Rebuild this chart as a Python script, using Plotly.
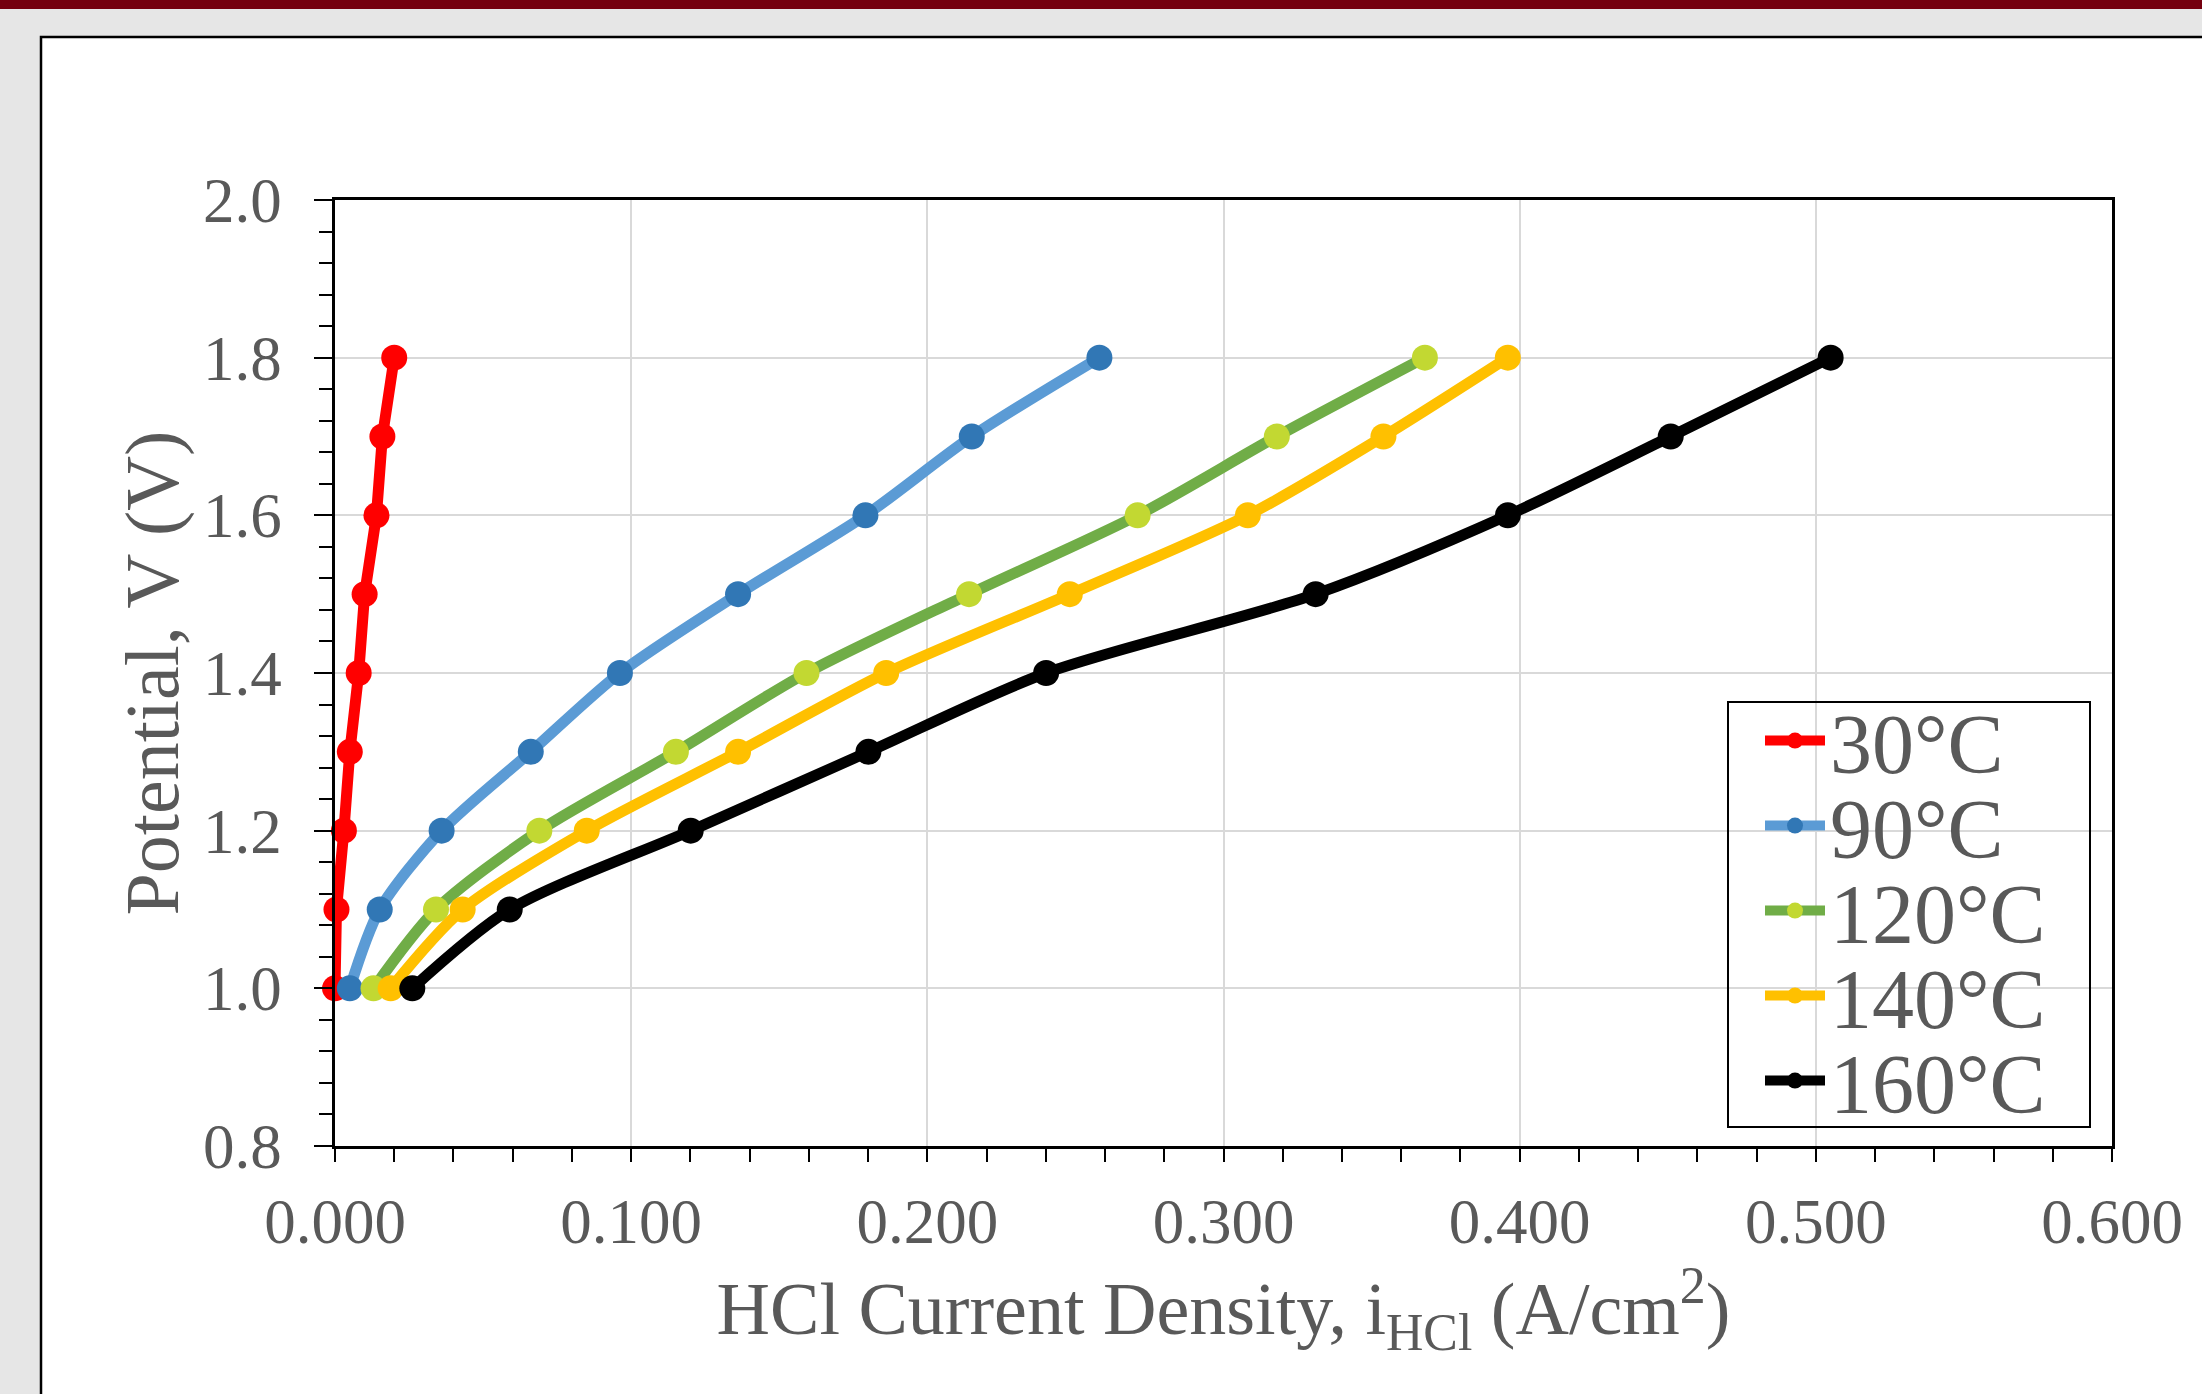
import plotly.graph_objects as go

# ---- data -------------------------------------------------------------
potential = [1.0, 1.1, 1.2, 1.3, 1.4, 1.5, 1.6, 1.7, 1.8]
series_names = ["30°C", "90°C", "120°C", "140°C", "160°C"]
i_30 = [0.000, 0.0005, 0.003, 0.005, 0.008, 0.010, 0.014, 0.016, 0.020]
i_90 = [0.005, 0.0151, 0.036, 0.0661, 0.0962, 0.1361, 0.1791, 0.2150, 0.2581]
i_120 = [0.013, 0.0341, 0.069, 0.1151, 0.1592, 0.2141, 0.2710, 0.3180, 0.3680]
i_140 = [0.0188, 0.0431, 0.085, 0.1361, 0.1861, 0.2481, 0.3082, 0.3540, 0.3960]
i_160 = [0.0261, 0.059, 0.1201, 0.1801, 0.2401, 0.3311, 0.3960, 0.4510, 0.5050]
x_tick_vals = [0.0, 0.1, 0.2, 0.3, 0.4, 0.5, 0.6]
y_tick_vals = [0.8, 1.0, 1.2, 1.4, 1.6, 1.8, 2.0]

# ---- styles -------------------------------------------------------------
line_colors = ["#FF0000", "#5B9BD5", "#70AD47", "#FFC000", "#000000"]
marker_colors = ["#FF0000", "#3177B5", "#C2D832", "#FFC000", "#000000"]
shapes_line = ["linear", "spline", "spline", "spline", "spline"]
currents = [i_30, i_90, i_120, i_140, i_160]
legend_ids = ["legend", "legend2", "legend3", "legend4", "legend5"]

FONT = "Liberation Serif, Times New Roman, serif"
GREY = "#595959"

fig = go.Figure()
for k in range(5):
    fig.add_trace(go.Scatter(
        x=currents[k], y=potential, name=series_names[k],
        mode="lines+markers",
        line=dict(color=line_colors[k], width=11, shape=shapes_line[k], smoothing=0.8),
        marker=dict(color=marker_colors[k], size=26, line=dict(width=0)),
        cliponaxis=False,
        legend=legend_ids[k],
    ))

# plot area in pixels: x 335..2112, y 200..1146
W, H = 2202, 1394
L, R, T, B = 335, 2112, 200, 1146
def px(x):
    return (x - L) / (R - L)
def py(y):
    return (B - y) / (B - T)

legend_rows = [741, 826, 911, 996, 1081]
legend_cfg = {}
for k, lid in enumerate(legend_ids):
    legend_cfg[lid] = dict(
        x=px(1760), y=py(legend_rows[k]), xanchor="left", yanchor="middle",
        bgcolor="rgba(0,0,0,0)", borderwidth=0,
        font=dict(family=FONT, size=84, color=GREY),
        itemwidth=60, tracegroupgap=0,
    )

fig.update_layout(
    width=W, height=H,
    margin=dict(l=L, r=W - R, t=T, b=H - B, pad=0),
    paper_bgcolor="#E6E6E6",
    plot_bgcolor="#FFFFFF",
    showlegend=True,
    **legend_cfg,
    shapes=[
        # white slide panel with black border
        dict(type="rect", xref="paper", yref="paper", layer="below",
             x0=px(41), x1=px(2260), y0=py(1450), y1=py(37),
             fillcolor="#FFFFFF", line=dict(color="#000000", width=2.5)),
        # dark red banner at the top
        dict(type="rect", xref="paper", yref="paper", layer="below",
             x0=px(-20), x1=px(2260), y0=py(9), y1=py(-20),
             fillcolor="#75000F", line=dict(width=0)),
        # legend frame
        dict(type="rect", xref="paper", yref="paper", layer="above",
             x0=px(1728), x1=px(2090), y0=py(1127), y1=py(702),
             fillcolor="rgba(0,0,0,0)", line=dict(color="#000000", width=2)),
    ],
)

fig.update_xaxes(
    range=[0, 0.6], tickvals=x_tick_vals, tickformat=".3f",
    showgrid=True, gridcolor="#D9D9D9", gridwidth=1.5,
    showline=True, linecolor="#000000", linewidth=2.5, mirror=True,
    ticks="outside", ticklen=13, tickwidth=2, tickcolor="#000000",
    minor=dict(dtick=0.02, tick0=0, ticks="outside", ticklen=13, tickwidth=2,
               tickcolor="#000000", showgrid=False),
    tickfont=dict(family=FONT, size=63, color=GREY),
    ticklabelstandoff=6,
    title=dict(text="HCl Current Density, i<sub>HCl</sub> (A/cm<sup>2</sup>)",
               font=dict(family=FONT, size=74, color=GREY), standoff=20),
    zeroline=False,
)
fig.update_yaxes(
    range=[0.8, 2.0], tickvals=y_tick_vals, tickformat=".1f",
    showgrid=True, gridcolor="#D9D9D9", gridwidth=1.5,
    showline=True, linecolor="#000000", linewidth=2.5, mirror=True,
    ticks="outside", ticklen=18, tickwidth=2, tickcolor="#000000",
    minor=dict(dtick=0.04, tick0=0.8, ticks="outside", ticklen=13, tickwidth=2,
               tickcolor="#000000", showgrid=False),
    tickfont=dict(family=FONT, size=63, color=GREY),
    ticklabelstandoff=20,
    title=dict(text="Potential, V (V)",
               font=dict(family=FONT, size=76, color=GREY), standoff=0),
    zeroline=False,
)

fig.write_html("out.html", config={"displayModeBar": False},
               post_script="document.body.style.margin='0px';")
